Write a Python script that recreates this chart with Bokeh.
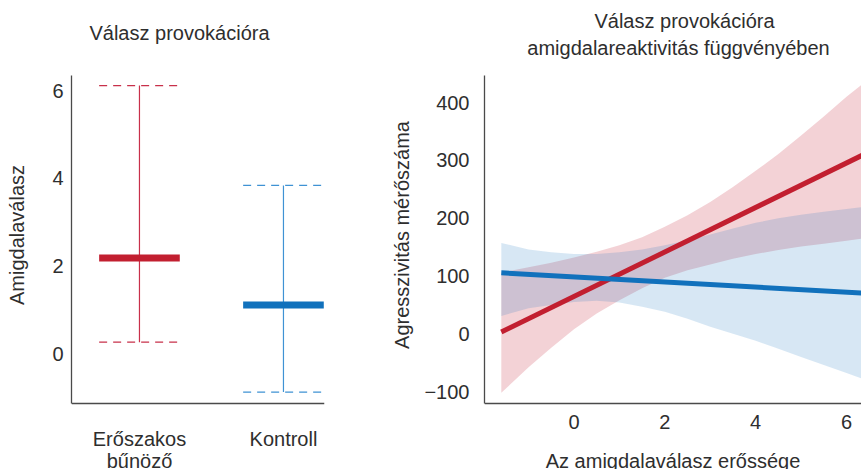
from bokeh.plotting import figure
from bokeh.layouts import row
from bokeh.models import FixedTicker, Range1d
from bokeh.core.properties import value
from bokeh.embed import file_html
from bokeh.resources import INLINE

# ---------------- data ----------------
# left panel
groups = ["Erőszakos\nbűnöző", "Kontroll"]
group_pos = [1, 2]
group_mean = [2.18, 1.11]
group_upper = [6.12, 3.84]
group_lower = [0.26, -0.88]

# right panel
x_fit = [-1.6, 6.35]
red_fit = [3, 309]
blue_fit = [105.5, 70.6]

x_band = [-1.6, -1, -0.5, 0, 0.5, 1, 1.5, 2, 2.5, 3, 3.5, 4, 4.5, 5, 5.5, 6, 6.35]
red_upper = [106, 115, 123, 132, 142, 153, 167, 185, 205, 228, 254, 282, 311, 343, 376, 410, 432]
red_lower = [-102, -58, -24, 8, 35, 58, 79, 97, 110, 120, 130, 138, 145, 151, 156, 161, 165]
blue_upper = [157, 146, 141, 138, 138, 141, 146, 153, 162, 172, 182, 192, 200, 206, 211, 216, 219]
blue_lower = [31, 44, 50, 55, 57, 54, 47, 38, 26, 12, 0, -12, -26, -40, -54, -68, -78]

left_yticks = [0, 2, 4, 6]
right_yticks = [-100, 0, 100, 200, 300, 400]
right_xticks = [0, 2, 4, 6]

left_title = "Válasz provokációra"
right_title = ["Válasz provokációra", "amigdalareaktivitás függvényében"]

# ---------------- style ----------------
FONT = "Liberation Sans"
TXT = "#2e2e2e"
AX = "#4a4a4a"
RED = "#C21F30"
RED_THIN = "#C8304A"
BLUE = "#1171BC"
BLUE_THIN = "#3F92D4"
FS = "20px"

H = 469
F_TOP, F_BOT = 75, 403          # pixel rows of the axis box


def style(p):
    p.outline_line_color = None
    p.grid.visible = False
    p.background_fill_color = "white"
    p.border_fill_color = "white"
    for ax in p.axis:
        ax.axis_line_color = AX
        ax.axis_line_width = 1.3
        ax.major_tick_line_color = None
        ax.minor_tick_line_color = None
        ax.major_tick_out = 0
        ax.major_tick_in = 0
        ax.major_label_text_font = FONT
        ax.major_label_text_font_size = FS
        ax.major_label_text_color = TXT
        ax.axis_label_text_font = FONT
        ax.axis_label_text_font_size = FS
        ax.axis_label_text_font_style = "normal"
        ax.axis_label_text_color = TXT


def put_text(p, xs, ys, texts):
    p.text(x=xs, y=ys, text=texts, text_align="center", text_baseline="middle",
           text_font=value(FONT), text_font_size=FS, text_color=TXT)


# ---------------- left panel ----------------
L_W, L_LEFT, L_RIGHT = 380, 71, 56
lx0, lx1 = 0.528, 2.285
ly0, ly1 = -1.14, 6.35
l_ppy = (F_BOT - F_TOP) / (ly1 - ly0)
l_ppx = (L_W - L_LEFT - L_RIGHT) / (lx1 - lx0)


def lx(px):
    return lx0 + (px - L_LEFT) / l_ppx


def ly(py):
    return ly1 - (py - F_TOP) / l_ppy


p1 = figure(width=L_W, height=H, title=None,
            x_range=Range1d(lx0, lx1), y_range=Range1d(ly(H), ly(0)),
            output_backend="svg", toolbar_location=None,
            min_border_left=L_LEFT, min_border_right=L_RIGHT,
            min_border_top=0, min_border_bottom=0)
style(p1)
p1.yaxis.ticker = FixedTicker(ticks=left_yticks)
p1.yaxis.bounds = (ly0, ly1)
p1.yaxis.axis_label = "Amigdalaválasz"
p1.yaxis.major_label_standoff = 8
p1.yaxis.axis_label_standoff = 21
p1.xaxis.ticker = FixedTicker(ticks=[])
p1.xaxis.fixed_location = ly0

half = 0.28
cols = [RED, BLUE]
thin = [RED_THIN, BLUE_THIN]
for i in range(len(groups)):
    xc = group_pos[i]
    p1.segment(x0=[xc], y0=[group_lower[i]], x1=[xc], y1=[group_upper[i]],
               line_color=thin[i], line_width=1.2)
    p1.segment(x0=[xc - half, xc - half], y0=[group_upper[i], group_lower[i]],
               x1=[xc + half, xc + half], y1=[group_upper[i], group_lower[i]],
               line_color=thin[i], line_width=1.3, line_dash="8 6")
    p1.segment(x0=[xc - half], y0=[group_mean[i]], x1=[xc + half], y1=[group_mean[i]],
               line_color=cols[i], line_width=7, line_cap="butt")
    lines = groups[i].split("\n")
    put_text(p1, [xc] * len(lines), [ly(438 + 22 * k) for k in range(len(lines))], lines)

put_text(p1, [lx(179)], [ly(32)], [left_title])

# ---------------- right panel ----------------
R_W, R_LEFT, R_RIGHT = 481, 104, 0
rx0, rx1 = -1.97, 6.33
ry0, ry1 = -120.6, 446.9
r_ppy = (F_BOT - F_TOP) / (ry1 - ry0)
r_ppx = (R_W - R_LEFT - R_RIGHT) / (rx1 - rx0)


def rx(px):
    return rx0 + (px - 484) / r_ppx


def ry(py):
    return ry1 - (py - F_TOP) / r_ppy


p2 = figure(width=R_W, height=H, title=None,
            x_range=Range1d(rx0, rx1), y_range=Range1d(ry(H), ry(0)),
            output_backend="svg", toolbar_location=None,
            min_border_left=R_LEFT, min_border_right=R_RIGHT,
            min_border_top=0, min_border_bottom=0)
style(p2)
p2.yaxis.ticker = FixedTicker(ticks=right_yticks)
p2.yaxis.bounds = (ry0, ry1)
p2.yaxis.major_label_overrides = {-100: "\u2212100"}
p2.yaxis.axis_label = "Agresszivitás mérőszáma"
p2.yaxis.major_label_standoff = 15
p2.yaxis.axis_label_standoff = 8
p2.xaxis.ticker = FixedTicker(ticks=right_xticks)
p2.xaxis.fixed_location = ry0
p2.xaxis.major_label_standoff = 11
p2.xaxis.axis_label = "Az amigdalaválasz erőssége"
p2.xaxis.axis_label_standoff = 18

p2.varea(x=x_band, y1=red_lower, y2=red_upper, fill_color=RED, fill_alpha=0.2)
p2.varea(x=x_band, y1=blue_lower, y2=blue_upper, fill_color=BLUE, fill_alpha=0.17)
p2.line(x=x_fit, y=red_fit, line_color=RED, line_width=5)
p2.line(x=x_fit, y=blue_fit, line_color=BLUE, line_width=5)

put_text(p2, [rx(684), rx(678)], [ry(20), ry(47)], right_title)

layout = row(p1, p2)
open("out.html", "w").write(file_html(layout, INLINE))
